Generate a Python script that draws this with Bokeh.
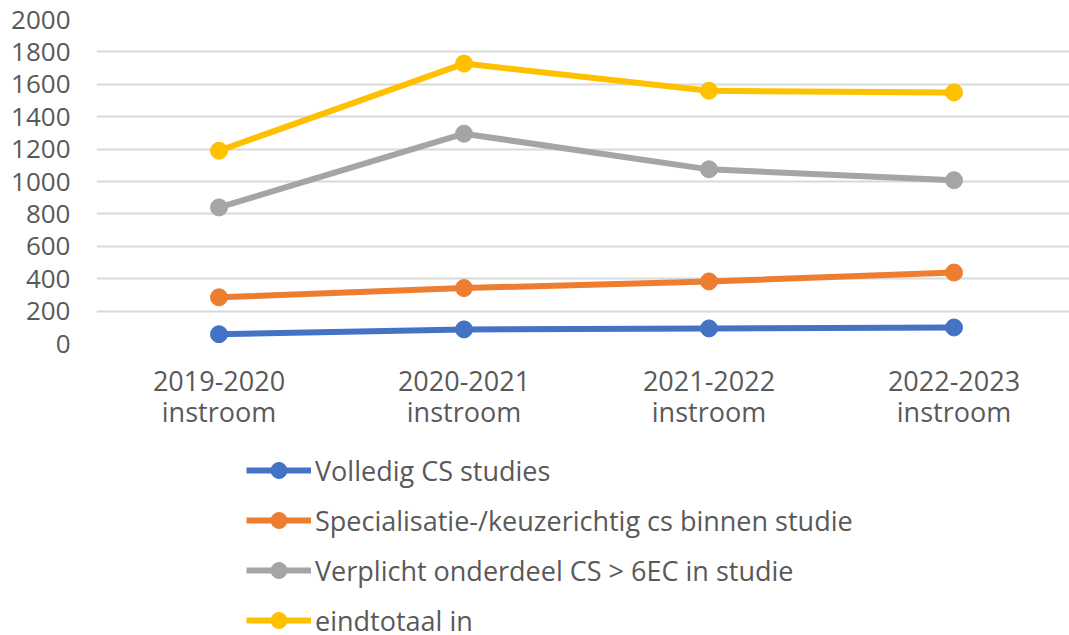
from bokeh.plotting import figure
from bokeh.models import Range1d, FixedTicker, Legend, LegendItem
from bokeh.layouts import column
from bokeh.embed import file_html
from bokeh.resources import INLINE

categories = ["2019-2020\ninstroom", "2020-2021\ninstroom", "2021-2022\ninstroom", "2022-2023\ninstroom"]
series_names = ["Volledig CS studies",
                "Specialisatie-/keuzerichtig cs binnen studie",
                "Verplicht onderdeel CS > 6EC in studie",
                "eindtotaal in"]
volledig = [57, 87, 93, 99]
specialisatie = [285, 342, 383, 438]
verplicht = [840, 1295, 1075, 1008]
eindtotaal = [1190, 1728, 1560, 1550]
colors = ["#4472C4", "#ED7D31", "#A5A5A5", "#FFC000"]
y_ticks = [0, 200, 400, 600, 800, 1000, 1200, 1400, 1600, 1800, 2000]

FONT = "Open Sans"
TXT = "#595959"
W = 1069
H1 = 445
H2 = 635 - H1

xs = list(range(len(categories)))
all_series = [volledig, specialisatie, verplicht, eindtotaal]

p = figure(width=W, height=H1, output_backend="svg", toolbar_location=None,
           x_range=Range1d(-0.5, -0.5 + 973 / 245), y_range=Range1d(0, 2000),
           min_border_left=96, min_border_right=0, min_border_top=19, min_border_bottom=H1 - 343)
p.outline_line_color = None
p.border_fill_color = "white"

p.xgrid.grid_line_color = None
p.ygrid.grid_line_color = "#D9D9D9"
p.ygrid.grid_line_width = 2
p.ygrid.ticker = FixedTicker(ticks=y_ticks)

p.yaxis.ticker = FixedTicker(ticks=y_ticks)
p.xaxis.ticker = FixedTicker(ticks=xs)
p.xaxis.major_label_overrides = {i: c for i, c in enumerate(categories)}
for ax in (p.xaxis[0], p.yaxis[0]):
    ax.axis_line_color = None
    ax.major_tick_line_color = None
    ax.minor_tick_line_color = None
    ax.major_tick_out = 0
    ax.major_tick_in = 0
    ax.minor_tick_out = 0
    ax.major_label_text_font = FONT
    ax.major_label_text_color = TXT
p.yaxis.major_label_text_font_size = "26px"
p.yaxis.major_label_standoff = 26
p.xaxis.major_label_text_font_size = "27px"
p.xaxis.major_label_standoff = 18
p.xaxis.major_label_text_line_height = 0.85

for vals, col in zip(all_series, colors):
    p.line(xs, vals, line_color=col, line_width=6)
    p.scatter(xs, vals, size=17, fill_color=col, line_color=col)

# legend panel (second figure, same series drawn out of view, used only for the key)
q = figure(width=W, height=H2, output_backend="svg", toolbar_location=None,
           x_range=Range1d(100, 101), y_range=Range1d(0, 2000),
           x_axis_type=None, y_axis_type=None,
           min_border_left=0, min_border_right=0, min_border_top=0, min_border_bottom=0)
q.outline_line_color = None
q.xgrid.visible = False
q.ygrid.visible = False

items = []
for name, vals, col in zip(series_names, all_series, colors):
    l = q.line(xs, vals, line_color=col, line_width=6)
    s = q.scatter(xs, vals, size=17, fill_color=col, line_color=col)
    items.append(LegendItem(label=name, renderers=[l, s]))

legend = Legend(items=items, location=(150, -5), orientation="vertical",
                glyph_width=65, glyph_height=40, label_height=40, label_standoff=4,
                spacing=10, padding=0, margin=0,
                label_text_font=FONT, label_text_font_size="27px", label_text_color=TXT,
                border_line_color=None, background_fill_alpha=0)
q.add_layout(legend, "center")

layout = column(p, q, spacing=0)
open("out.html", "w").write(file_html(layout, INLINE))
